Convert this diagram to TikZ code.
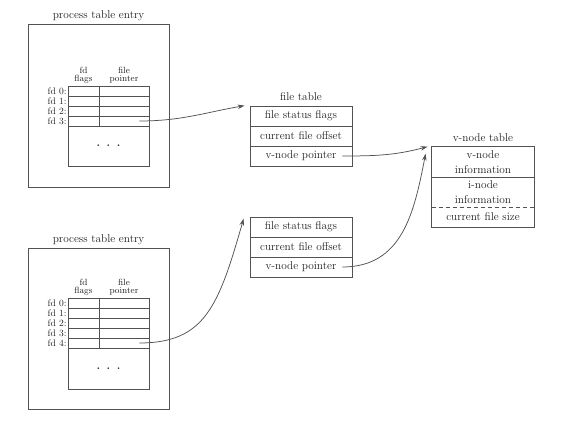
\documentclass[tikz,border=0pt]{standalone}
\usetikzlibrary{arrows.meta}

\colorlet{linegray}{black!68}
\colorlet{inkgray}{black!88}
\newcommand{\mainsize}{\fontsize{11.3}{14.5}\selectfont}
\newcommand{\labelsize}{\fontsize{9.5}{8}\selectfont}
\newcommand{\headsize}{\fontsize{9}{8.3}\selectfont}

\tikzset{
    frame/.style={draw=linegray, line width=0.75pt},
    cell/.style={frame, inner sep=0pt, minimum width=102pt, minimum height=20pt,
        text=inkgray, font=\mainsize, align=center},
    slot/.style={frame, inner sep=0pt, minimum height=10pt, text=inkgray, font=\mainsize},
    caption/.style={text=inkgray, font=\mainsize, inner sep=0pt, anchor=base},
    fdlabel/.style={text=inkgray, font=\labelsize, inner sep=1pt, anchor=east},
    colhead/.style={text=inkgray, font=\headsize, align=center, inner sep=0pt, anchor=south},
    ptr/.style={frame, -{Stealth[length=7pt,width=4.5pt]}}
}

\begin{document}
\begin{tikzpicture}[x=1pt,y=1pt]
        \useasboundingbox (0,0) rectangle (562,423);

        % first process
        \draw[frame] (28,236) rectangle (169,399);
        \node[caption] (ptitlea) at (98.5,404) {process table entry};
        \node[colhead] (hfa) at (83.5,339.5) {fd\\flags};
        \node[colhead] (hpa) at (124,339.5) {file\\pointer};
        \foreach \i in {0,...,3} {
            \node[slot, minimum width=31pt] (fa\i) at (83.5,332-10*\i) {};
            \node[slot, minimum width=50pt] (pa\i) at (124,332-10*\i) {};
            \node[fdlabel] (la\i) at (fa\i.west) {fd \i:};
        }
        \node[slot, minimum width=81pt, minimum height=40pt] (da) at (108.5,277)
            {\textbf{.\hspace{6.5pt}.\hspace{6.5pt}.}};

        % second process
        \draw[frame] (28,14) rectangle (169,175);
        \node[caption] (ptitleb) at (98.5,180) {process table entry};
        \node[colhead] (hfb) at (83.5,127.5) {fd\\flags};
        \node[colhead] (hpb) at (124,127.5) {file\\pointer};
        \foreach \i in {0,...,4} {
            \node[slot, minimum width=31pt] (fb\i) at (83.5,120-10*\i) {};
            \node[slot, minimum width=50pt] (pb\i) at (124,120-10*\i) {};
            \node[fdlabel] (lb\i) at (fb\i.west) {fd \i:};
        }
        \node[slot, minimum width=81pt, minimum height=41pt] (db) at (108.5,54.5)
            {\textbf{.\hspace{6.5pt}.\hspace{6.5pt}.}};

        % file table
        \node[caption] (fttitle) at (301,322) {file table};
        \node[cell] (fta) at (301,307) {file status flags};
        \node[cell] (ftb) at (301,287) {current file offset};
        \node[cell] (ftc) at (301,267) {v-node pointer};

        \node[cell] (fua) at (301,196) {file status flags};
        \node[cell] (fub) at (301,176) {current file offset};
        \node[cell] (fuc) at (301,156) {v-node pointer};

        % v-node table
        \node[caption] (vntitle) at (483,281) {v-node table};
        \node[cell, draw=none, minimum height=30pt] (vna) at (483,261) {v-node\\information};
        \node[cell, draw=none, minimum height=30pt] (vnb) at (483,231) {i-node\\information};
        \node[cell, draw=none] (vnc) at (483,206) {current file size};
        \draw[frame] (vna.north west) rectangle (vnc.south east);
        \draw[frame] (vna.south west) -- (vna.south east);
        \draw[frame, dash pattern=on 4pt off 3pt] (vnb.south west) -- (vnb.south east);

        % pointers
        \coordinate (sa) at ([xshift=-10pt]pa3.east);
        \coordinate (ea) at ([xshift=-5pt]fta.north west);
        \coordinate (sb) at ([xshift=-10pt]pb4.east);
        \coordinate (eb) at ([xshift=-6pt,yshift=-2pt]fua.north west);
        \coordinate (sc) at ([xshift=-10pt]ftc.east);
        \coordinate (ec) at ([xshift=-4pt]vna.north west);
        \coordinate (sd) at ([xshift=-10pt]fuc.east);
        \coordinate (ed) at ([xshift=-6pt,yshift=-7pt]vna.north west);

        \draw[ptr] (sa) to[out=0,in=190] (ea);
        \draw[ptr] (sb) to[out=0,in=254,out distance=66pt,in distance=90pt] (eb);
        \draw[ptr] (sc) to[out=0,in=195] (ec);
        \draw[ptr] (sd) to[out=0,in=259,out distance=60pt,in distance=60pt] (ed);

    \end{tikzpicture}
\end{document}
